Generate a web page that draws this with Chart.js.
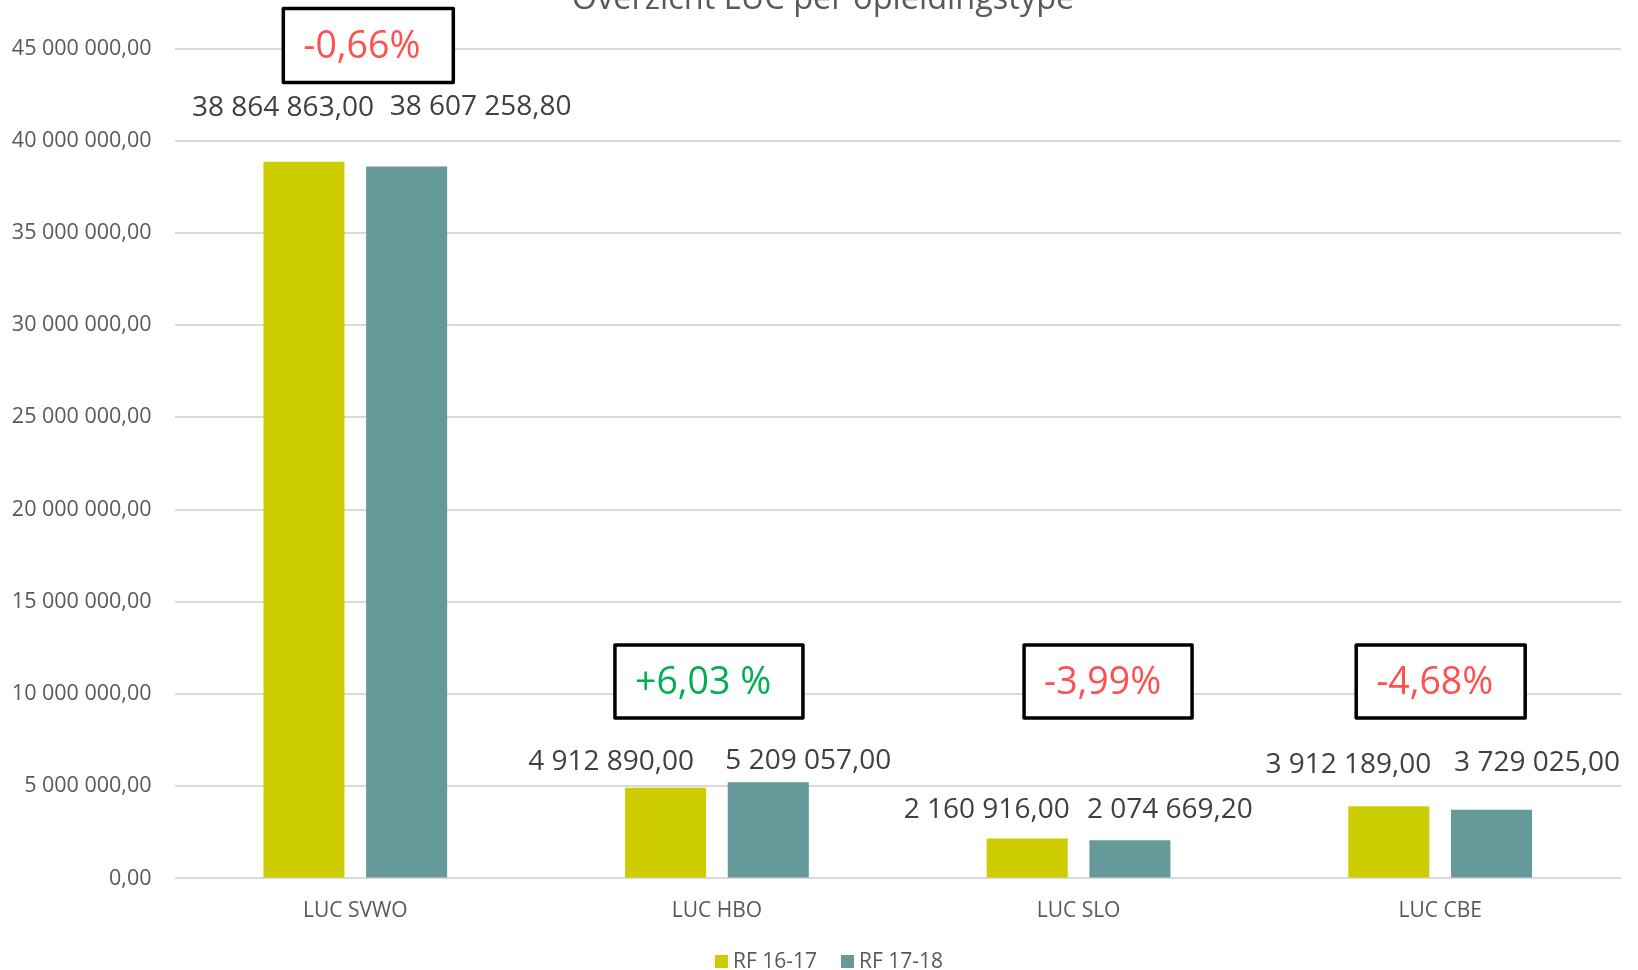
<!DOCTYPE html>
<html>
<head>
<meta charset="utf-8">
<title>Overzicht LUC per opleidingstype</title>
<script src="https://cdn.jsdelivr.net/npm/chart.js@4.4.0/dist/chart.umd.min.js"></script>
<style>
  html, body { margin: 0; padding: 0; background: #fff; }
  #wrap { position: relative; width: 1638px; height: 970px; }
</style>
</head>
<body>
<div id="wrap"><canvas id="chart"></canvas></div>
<script>
// ── Data ──────────────────────────────────────────────────────────────────
const chartTitle   = 'Overzicht LUC per opleidingstype';
const categories   = ['LUC SVWO', 'LUC HBO', 'LUC SLO', 'LUC CBE'];
const seriesNames  = ['RF 16-17', 'RF 17-18'];
const rf1617       = [38864863.00, 4912890.00, 2160916.00, 3912189.00];
const rf1718       = [38607258.80, 5209057.00, 2074669.20, 3729025.00];
const changeLabels = ['-0,66%', '+6,03 %', '-3,99%', '-4,68%'];
const yMin  = 0;
const yMax  = 45000000;
const yStep = 5000000;

// ── Look ──────────────────────────────────────────────────────────────────
const FONT      = '"Open Sans", "Noto Sans", sans-serif';
const GREY      = '#595959';
const DARK      = '#404040';
const COL_1617  = '#cccc00';
const COL_1718  = '#669999';
const RED       = '#ff5050';
const GREEN     = '#00b050';

// Dutch style number: spaces for thousands, comma for decimals
function fmtNl(v) {
  const [int, dec] = Math.abs(v).toFixed(2).split('.');
  return (v < 0 ? '-' : '') + int.replace(/\B(?=(\d{3})+(?!\d))/g, ' ') + ',' + dec;
}

// ── Plugins ───────────────────────────────────────────────────────────────

// Title sits half off the top edge, as in the source screenshot
const titlePlugin = {
  id: 'cutTitle',
  afterDraw(chart) {
    const ctx = chart.ctx;
    ctx.save();
    ctx.font = `32.5px ${FONT}`;
    ctx.fillStyle = GREY;
    ctx.textAlign = 'center';
    ctx.textBaseline = 'alphabetic';
    ctx.fillText(chartTitle, chart.width / 2 + 4, 9);
    ctx.restore();
  }
};

// Value labels above the bars, nudged sideways like the Excel original
const valueLabelPlugin = {
  id: 'valueLabels',
  afterDatasetsDraw(chart, args, opts) {
    const ctx = chart.ctx;
    ctx.save();
    ctx.font = `28px ${FONT}`;
    ctx.fillStyle = DARK;
    ctx.textAlign = 'center';
    ctx.textBaseline = 'middle';
    chart.data.datasets.forEach((ds, d) => {
      chart.getDatasetMeta(d).data.forEach((bar, i) => {
        ctx.fillText(fmtNl(ds.data[i]), bar.x + opts.dx[d][i], bar.y - opts.dy[d][i]);
      });
    });
    ctx.restore();
  }
};

// Boxed percentage change per category
const changeBoxPlugin = {
  id: 'changeBoxes',
  afterDraw(chart, args, opts) {
    const ctx = chart.ctx;
    const xs = chart.scales.x, ys = chart.scales.y;
    ctx.save();
    changeLabels.forEach((txt, i) => {
      const b = opts.boxes[i];
      const left = xs.getPixelForValue(i) + b.dx;
      const top  = ys.getPixelForValue(b.top);
      ctx.fillStyle = '#fff';
      ctx.fillRect(left, top, b.w, b.h);
      ctx.lineWidth = 3.5;
      ctx.lineJoin = 'round';
      ctx.strokeStyle = '#000';
      ctx.strokeRect(left, top, b.w, b.h);
      ctx.font = `37.5px ${FONT}`;
      ctx.fillStyle = txt.trim().startsWith('+') ? GREEN : RED;
      ctx.textAlign = 'left';
      ctx.textBaseline = 'middle';
      ctx.fillText(txt, left + 20, top + b.h / 2 + 2);
    });
    ctx.restore();
  }
};

// Legend drawn by hand so it can sit off-centre like the original
const legendPlugin = {
  id: 'bottomLegend',
  afterDraw(chart, args, opts) {
    const ctx = chart.ctx;
    ctx.save();
    ctx.font = `21px ${FONT}`;
    ctx.textBaseline = 'middle';
    ctx.textAlign = 'left';
    const box = 13, gapText = 5, gapItem = 24;
    const items = chart.data.datasets.map(ds => ({ label: ds.label, color: ds.backgroundColor, w: ctx.measureText(ds.label).width }));
    const total = items.reduce((s, it) => s + box + gapText + it.w, 0) + gapItem * (items.length - 1);
    let x = opts.centerX - total / 2;
    items.forEach(it => {
      ctx.fillStyle = it.color;
      ctx.fillRect(x, opts.centerY - box / 2, box, box);
      ctx.fillStyle = GREY;
      ctx.fillText(it.label, x + box + gapText, opts.centerY + 1);
      x += box + gapText + it.w + gapItem;
    });
    ctx.restore();
  }
};

// ── Chart ─────────────────────────────────────────────────────────────────
new Chart(document.getElementById('chart').getContext('2d'), {
  type: 'bar',
  data: {
    labels: categories,
    datasets: [
      { label: seriesNames[0], data: rf1617, backgroundColor: COL_1617 },
      { label: seriesNames[1], data: rf1718, backgroundColor: COL_1718 },
    ]
  },
  options: {
    responsive: true,
    maintainAspectRatio: false,
    animation: false,
    devicePixelRatio: 1,
    datasets: { bar: { categoryPercentage: 0.568, barPercentage: 0.789 } },
    layout: { padding: { top: 48.5, right: 17, bottom: 31.6, left: 0 } },
    plugins: {
      legend: { display: false },
      title: { display: false },
      tooltip: { enabled: false },
      valueLabels: {
        dx: [[-21, -54.5, -40.5, -40.5], [74, 40, 40, 45.5]],
        dy: [[54, 26, 29, 41.7], [59, 21, 30.6, 47]],
      },
      changeBoxes: {
        boxes: [
          { dx: -72,  top: 47170000, w: 170, h: 74 },
          { dx: -102, top: 12660000, w: 188, h: 73 },
          { dx: -54.5, top: 12660000, w: 168, h: 73 },
          { dx: -84,  top: 12660000, w: 169, h: 73 },
        ]
      },
      bottomLegend: { centerX: 829, centerY: 961.5 },
    },
    scales: {
      x: {
        grid: { display: false },
        border: { display: false },
        ticks: { color: GREY, font: { family: FONT, size: 21 }, padding: 12 },
        afterFit: s => { s.height = 60; },
      },
      y: {
        min: yMin,
        max: yMax,
        grid: { color: '#d9d9d9', lineWidth: 2, drawTicks: false },
        border: { display: false },
        ticks: {
          stepSize: yStep,
          color: GREY,
          font: { family: FONT, size: 21.5 },
          padding: 23,
          callback: v => fmtNl(v),
        },
        afterFit: s => { s.width = 174.5; },
      }
    }
  },
  plugins: [titlePlugin, valueLabelPlugin, changeBoxPlugin, legendPlugin]
});
</script>
</body>
</html>
